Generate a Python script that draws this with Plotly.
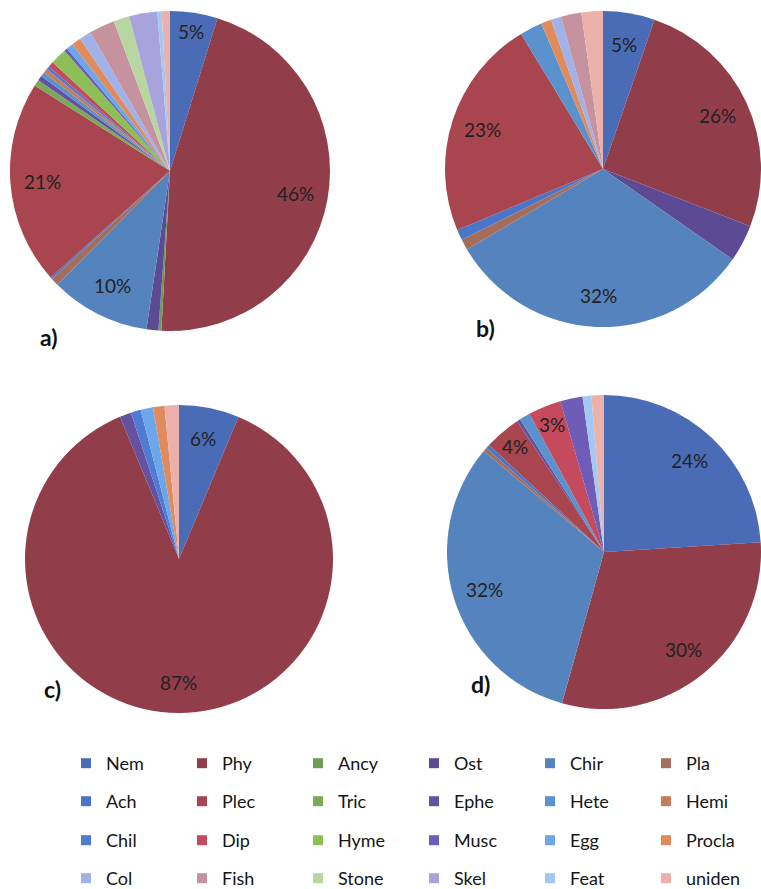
import math
import plotly.graph_objects as go

W, H = 761, 889

# diet categories, in series order
categories = ["Nem", "Phy", "Ancy", "Ost", "Chir", "Pla",
              "Ach", "Plec", "Tric", "Ephe", "Hete", "Hemi",
              "Chil", "Dip", "Hyme", "Musc", "Egg", "Procla",
              "Col", "Fish", "Stone", "Skel", "Feat", "uniden"]

colors = ["#4a6cb7", "#923d4a", "#6e9b57", "#5c4b94", "#5583bd", "#a56e5c",
          "#4a75c9", "#a9454f", "#7aaa55", "#6451a0", "#5a92cd", "#c37e5c",
          "#4f7bd3", "#c54a5d", "#8cbf55", "#6f5cb6", "#6ba7ea", "#e08b5d",
          "#9fb2ea", "#c6929f", "#b8d6a0", "#a8a3dc", "#a3c8f2", "#ebb1aa"]

# percentage of each category per sample (0 = not found)
share_a = [4.8, 46.2, 0.3, 1.2, 10.1, 0.8, 0.2, 20.6, 0.65, 0.5, 0.45, 0.45,
           0.33, 0.55, 1.65, 0.33, 0.7, 0.95, 1.2, 2.6, 1.6, 2.85, 0.44, 0.83]
share_b = [5.3, 25.7, 0, 3.8, 31.9, 1.1, 1.1, 22.7, 0, 0, 2.3, 0,
           0, 0, 0, 0, 0, 1.05, 1.05, 2.1, 0, 0, 0, 2.2]
share_c = [6.3, 87.2, 0, 0, 0, 0, 0, 0, 0, 1.2, 0, 0,
           1.05, 0, 0, 0, 1.3, 1.2, 0, 0, 0, 0, 0, 1.5]
share_d = [24.0, 30.3, 0, 0, 31.8, 0.4, 0.4, 3.75, 0, 0.35, 1.1, 0,
           0, 3.4, 0, 2.3, 0, 0, 0, 0, 0, 0, 0.9, 1.28]

# slices that carry a percentage label
labelled_a = ["Nem", "Phy", "Chir", "Plec"]
labelled_b = ["Nem", "Phy", "Chir", "Plec"]
labelled_c = ["Nem", "Phy"]
labelled_d = ["Nem", "Phy", "Chir", "Plec", "Dip"]

panel_names = ["a)", "b)", "c)", "d)"]

# pie placement in pixels: centre x, centre y, radius
panels = [
    (170, 171, 160),
    (603, 169, 158),
    (179, 559, 154),
    (604, 552, 157),
]
# panel letter positions in pixels
letter_pos = [(49, 337), (486, 328), (52, 689), (481, 684)]

fig = go.Figure()
annotations = []

all_shares = [share_a, share_b, share_c, share_d]
all_labelled = [labelled_a, labelled_b, labelled_c, labelled_d]

for shares, labelled, (cx, cy, r), name, (lx, ly) in zip(
        all_shares, all_labelled, panels, panel_names, letter_pos):
    fig.add_trace(go.Pie(
        labels=categories,
        values=shares,
        marker=dict(colors=colors, line=dict(width=0)),
        sort=False,
        direction="clockwise",
        rotation=0,
        textinfo="none",
        hoverinfo="label+percent",
        showlegend=False,
        domain=dict(x=[(cx - r) / W, (cx + r) / W],
                    y=[1 - (cy + r) / H, 1 - (cy - r) / H]),
    ))

    # percentage labels along each slice's mid-angle
    total = sum(shares)
    cum = 0.0
    for cat, v in zip(categories, shares):
        if cat in labelled:
            frac = v / total
            ang = (cum + v / 2) / total * 2 * math.pi
            rr = (0.8 if frac > 0.05 else 0.88) * r
            px = cx + rr * math.sin(ang)
            py = cy - rr * math.cos(ang)
            annotations.append(dict(
                x=px / W, y=1 - py / H, xref="paper", yref="paper",
                text=f"{round(100 * frac)}%", showarrow=False,
                font=dict(family="Lato", size=19, color="#222222"),
                xanchor="center", yanchor="middle"))
        cum += v

    annotations.append(dict(
        x=lx / W, y=1 - ly / H, xref="paper", yref="paper",
        text=name, showarrow=False,
        font=dict(family="Lato", size=23, color="#111111", weight="bold"),
        xanchor="center", yanchor="middle"))

# legend: four rows of six entries, each row its own legend box
row_top = [745, 783, 822, 860]
legend_left = 66
legends = {}
for i in range(4):
    key = "legend" if i == 0 else f"legend{i + 1}"
    for cat, col in zip(categories[6 * i:6 * i + 6], colors[6 * i:6 * i + 6]):
        fig.add_trace(go.Scatter(
            x=[None], y=[None], mode="markers", name=cat,
            marker=dict(symbol="square", size=10, color=col, line=dict(width=0)),
            legend=key, hoverinfo="skip"))
    legends[key] = dict(
        orientation="h", x=legend_left / W, xanchor="left",
        y=1 - row_top[i] / H, yanchor="top",
        entrywidth=71, entrywidthmode="pixels",
        bgcolor="rgba(0,0,0,0)", borderwidth=0,
        font=dict(family="Lato", size=18, color="#151515"),
        itemclick=False, itemdoubleclick=False)

fig.update_layout(
    width=W, height=H,
    margin=dict(l=0, r=0, t=0, b=0, autoexpand=False),
    paper_bgcolor="white",
    plot_bgcolor="rgba(0,0,0,0)",
    xaxis=dict(visible=False),
    yaxis=dict(visible=False),
    annotations=annotations,
    showlegend=True,
    **legends,
)

fig.write_html("out.html")
